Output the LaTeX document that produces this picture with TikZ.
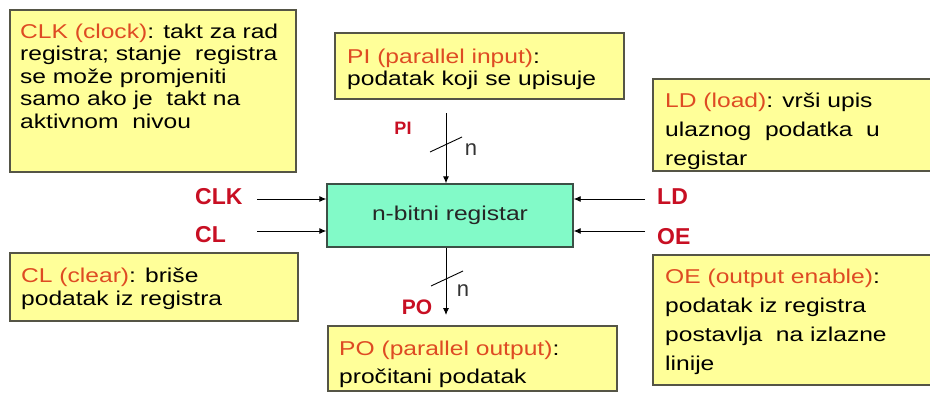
\documentclass[tikz,border=0pt]{standalone}
\usepackage{fontspec}
\setmainfont{Liberation Sans}
\newfontfamily\boxfont{Liberation Sans}[FakeStretch=1.23]
\newfontfamily\lblfont{Liberation Sans}
\usetikzlibrary{arrows.meta}
\definecolor{boxfill}{RGB}{255,255,153}
\definecolor{boxedge}{RGB}{85,85,70}
\definecolor{regfill}{RGB}{130,250,200}
\definecolor{regedge}{RGB}{60,80,70}
\definecolor{titlered}{RGB}{222,75,35}
\definecolor{lblred}{RGB}{200,15,35}
\tikzset{
  notebox/.style={draw=boxedge, line width=1.4pt, fill=boxfill},
  openbox/.style={draw=boxedge, line width=1.4pt},
  txt/.style={anchor=north west, inner sep=0pt, align=left},
  lbl/.style={inner sep=0pt, text=lblred, font=\lblfont\bfseries\fontsize{23}{23}\selectfont},
  sig/.style={draw=black, line width=0.9pt, -{Latex[length=7pt,width=6pt]}},
  nlbl/.style={inner sep=0pt, font=\lblfont\fontsize{22}{22}\selectfont, text=black!80},
}
\newcommand{\ttl}[1]{\textcolor{titlered}{#1}}
\begin{document}
\begin{tikzpicture}[x=1pt,y=-1pt]
\useasboundingbox (0,0) rectangle (930,392);
\fill[white] (0,0) rectangle (930,392);

% note boxes
\draw[notebox] (10,10) rectangle (296,172);
\draw[notebox] (335,33) rectangle (624,99);
\draw[notebox] (10,253) rectangle (298,321);
\draw[notebox] (328,326) rectangle (617,391);
% boxes running past the right edge
\fill[boxfill] (653,79) rectangle (930,171);
\draw[openbox] (930,79) -- (653,79) -- (653,171) -- (930,171);
\fill[boxfill] (653,255) rectangle (930,385);
\draw[openbox] (930,255) -- (653,255) -- (653,385) -- (930,385);

\node[txt, font=\boxfont\fontsize{20}{22.5}\selectfont] (clkt) at (20,22.25)
  {\strut\ttl{CLK (clock)}: takt za rad\\registra; stanje\ \ registra\\se može promjeniti\\samo ako je\ \ takt na\\aktivnom\ \ nivou};
\node[txt, font=\boxfont\fontsize{20}{22}\selectfont] (pit) at (347,47.6)
  {\strut\ttl{PI (parallel input)}:\\podatak koji se upisuje};
\node[txt, font=\boxfont\fontsize{20}{29}\selectfont] (ldt) at (665,86.7)
  {\strut\ttl{LD (load)}: vrši upis\\ulaznog\ \ podatka\ \ u\\registar};
\node[txt, font=\boxfont\fontsize{20}{23}\selectfont] (clt) at (21,265.9)
  {\strut\ttl{CL (clear)}: briše\\podatak iz registra};
\node[txt, font=\boxfont\fontsize{20}{29}\selectfont] (oet) at (665,262.7)
  {\strut\ttl{OE (output enable)}:\\podatak iz registra\\postavlja\ \ na izlazne\\linije};
\node[txt, font=\boxfont\fontsize{20}{28}\selectfont] (pot) at (339,335.4)
  {\strut\ttl{PO (parallel output)}:\\pročitani podatak};

% register
\node[draw=regedge, line width=1.4pt, fill=regfill, minimum width=246pt, minimum height=63pt,
      inner sep=0pt, font=\boxfont\fontsize{20}{24}\selectfont, text=black!85] (reg) at (450,215.5) {n-bitni registar};

% signal labels
\node[lbl, anchor=west] (clk) at (195,197) {CLK};
\node[lbl, anchor=west] (cl) at (195,235) {CL};
\node[lbl, anchor=west] (ld) at (657,197) {LD};
\node[lbl, anchor=west] (oe) at (657,237) {OE};
\node[lbl, font=\lblfont\bfseries\fontsize{18}{18}\selectfont] (pi) at (403,128) {PI};
\node[lbl, font=\lblfont\bfseries\fontsize{21}{21}\selectfont] (po) at (417,307) {PO};

% connector endpoints
\coordinate (clks) at (257,199);
\coordinate (cls) at (257,231);
\coordinate (lds) at (645,199);
\coordinate (oes) at (645,231);
\coordinate (pis) at (446,113);
\coordinate (poe) at (446,315);

\draw[sig] (clks) -- (clks -| reg.west);
\draw[sig] (cls) -- (cls -| reg.west);
\draw[sig] (lds) -- (lds -| reg.east);
\draw[sig] (oes) -- (oes -| reg.east);
\draw[sig] (pis) -- (pis |- reg.north);
\draw[sig] (poe |- reg.south) -- (poe);

% bus slashes
\coordinate (pia) at (430,152);
\coordinate (pib) at (462,137);
\coordinate (poa) at (431,286);
\coordinate (pob) at (463,271);
\draw[line width=0.9pt] (pia) -- (pib);
\draw[line width=0.9pt] (poa) -- (pob);
\node[nlbl] (npi) at (471,150) {n};
\node[nlbl] (npo) at (463,291) {n};
\end{tikzpicture}
\end{document}
